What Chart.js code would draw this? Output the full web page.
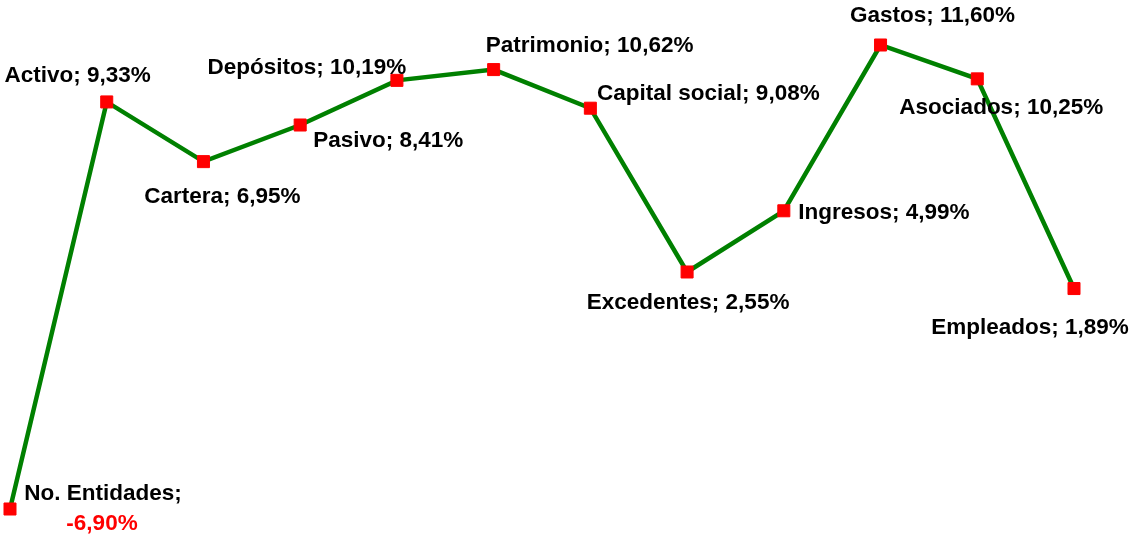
<!DOCTYPE html>
<html>
<head>
<meta charset="utf-8">
<script src="https://cdn.jsdelivr.net/npm/chart.js@4/dist/chart.umd.min.js"></script>
<style>
  html, body { margin: 0; padding: 0; background: #fff; }
  #wrap { width: 1131px; height: 536px; }
</style>
</head>
<body>
<div id="wrap"><canvas id="variacion"></canvas></div>
<script>
// variación anual por rubro (%)
const rubros = ['No. Entidades', 'Activo', 'Cartera', 'Pasivo', 'Depósitos', 'Patrimonio',
  'Capital social', 'Excedentes', 'Ingresos', 'Gastos', 'Asociados', 'Empleados'];
const variacion = [-6.90, 9.33, 6.95, 8.41, 10.19, 10.62, 9.08, 2.55, 4.99, 11.60, 10.25, 1.89];

// desplazamiento de cada etiqueta respecto a su punto (centro del texto)
const etiquetaDx = [93, -29, 19, 88, -90, 96, 118, 1, 100, 52, 24, -44];
const etiquetaDy = [-15, -26, 35, 16, -13, -24, -14, 31, 2, -29, 29, 39];

const fmt = v => v.toFixed(2).replace('.', ',') + '%';

// etiquetas "Rubro; valor" junto a cada punto
const etiquetas = {
  id: 'etiquetas',
  afterDatasetsDraw(chart) {
    const ctx = chart.ctx;
    const meta = chart.getDatasetMeta(0);
    ctx.save();
    ctx.font = 'bold 22.5px "Liberation Sans", Arial, sans-serif';
    ctx.textAlign = 'center';
    ctx.textBaseline = 'middle';
    meta.data.forEach((pt, i) => {
      const x = pt.x + etiquetaDx[i];
      const y = pt.y + etiquetaDy[i];
      const v = variacion[i];
      if (v < 0) {
        // negativo: nombre arriba, valor en rojo debajo
        ctx.fillStyle = '#000';
        ctx.fillText(rubros[i] + ';', x, y);
        ctx.fillStyle = '#ff0000';
        ctx.fillText(fmt(v), x - 1, y + 30);
      } else {
        ctx.fillStyle = '#000';
        ctx.fillText(rubros[i] + '; ' + fmt(v), x, y);
      }
    });
    ctx.restore();
  }
};

new Chart(document.getElementById('variacion'), {
  type: 'line',
  data: {
    labels: rubros,
    datasets: [{
      data: variacion,
      clip: false,
      borderColor: '#008000',
      borderWidth: 4.5,
      tension: 0,
      pointStyle: 'rect',
      pointRadius: 8.5,
      pointBackgroundColor: '#ff0000',
      pointBorderColor: '#ff0000',
      pointBorderWidth: 1
    }]
  },
  options: {
    responsive: true,
    maintainAspectRatio: false,
    animation: false,
    layout: { padding: { left: 10, right: 57, top: 45, bottom: 27 } },
    scales: {
      x: { display: false, offset: false },
      y: { display: false, min: -6.90, max: 11.60 }
    },
    plugins: {
      legend: { display: false },
      tooltip: { enabled: false }
    }
  },
  plugins: [etiquetas]
});
</script>
</body>
</html>
